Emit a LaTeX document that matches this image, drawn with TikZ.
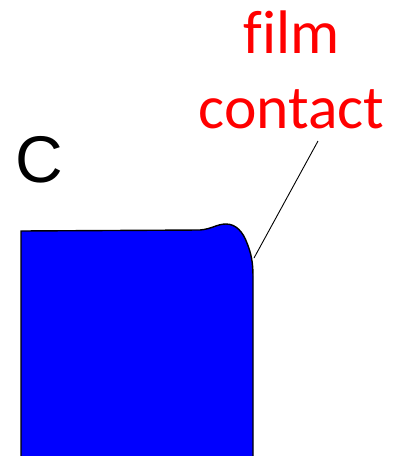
\documentclass[tikz,border=0pt]{standalone}
\usepackage{fontspec}
\setmainfont{Carlito}[Ligatures=NoCommon]
\newfontfamily\panelfont{Liberation Sans}
\usetikzlibrary{positioning}
\definecolor{filmblue}{HTML}{0000FF}
\definecolor{filmred}{HTML}{FF0000}
\tikzset{
  film body/.style={
    draw=black,
    line width=1.4pt,
    fill=filmblue,
  },
  film label/.style={
    text=filmred,
    font=\fontsize{61.5}{75}\selectfont,
    align=center,
    inner sep=0pt,
  },
  panel tag/.style={
    font=\panelfont\fontsize{66}{66}\selectfont,
    inner sep=0pt,
  },
  film leader/.style={line width=0.9pt, draw=black},
}

\begin{document}
\begin{tikzpicture}[x=1pt, y=-1pt]
  \useasboundingbox (0,0) rectangle (393,456);

  % --- panel letter ---
  \node[panel tag, anchor=base] (tag) at (39,182) {C};

  % --- film cross-section (runs off the bottom) ---
  \draw[film body] (21,462) -- (21,231) -- (200,230)
    .. controls (212,229) and (217,224) .. (226,224)
    .. controls (236,224) and (243,232) .. (247,243)
    .. controls (251,253) and (253,262) .. (253,276)
    -- (253,462);
  \coordinate (edge) at (254,258);

  % --- label and leader ---
  \node[film label, anchor=south] (contact) at (291.5,129) {film\\contact};
  \draw[film leader] ([xshift=26.5pt, yshift=-12pt]contact.south) -- (edge);

\end{tikzpicture}
\end{document}
